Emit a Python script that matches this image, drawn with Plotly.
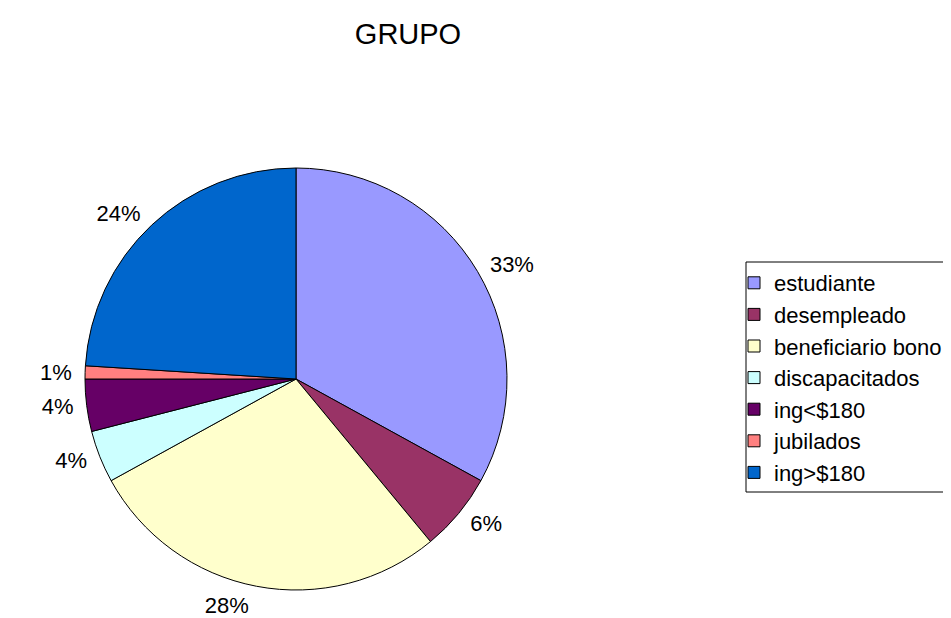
import plotly.graph_objects as go

categories = ["estudiante", "desempleado", "beneficiario bono", "discapacitados",
              "ing<$180", "jubilados", "ing>$180"]
shares = [33, 6, 28, 4, 4, 1, 24]
colors = ["#9999FF", "#993366", "#FFFFCC", "#CCFFFF", "#660066", "#FF8080", "#0066CC"]

W, H = 951, 618
cx, cy, r = 288, 371, 211
r_lab = r + 7  # labels sit a little further out, as in the reference

FONT = "Arial, Liberation Sans"


def dom(rad):
    return dict(x=[(cx - rad) / W, (cx + rad) / W], y=[1 - (cy + rad) / H, 1 - (cy - rad) / H])


fig = go.Figure()
fig.add_trace(go.Pie(
    labels=categories,
    values=shares,
    sort=False,
    direction="clockwise",
    rotation=0,
    marker=dict(colors=colors, line=dict(color="black", width=1)),
    textinfo="none",
    domain=dom(r),
    hoverinfo="label+percent",
))
# transparent companion pie carrying the percentage labels
fig.add_trace(go.Pie(
    labels=categories,
    values=shares,
    sort=False,
    direction="clockwise",
    rotation=0,
    marker=dict(colors=["rgba(0,0,0,0)"] * len(categories), line=dict(width=0)),
    textinfo="percent",
    textposition="outside",
    texttemplate="%{percent:.0%}",
    outsidetextfont=dict(family=FONT, size=22, color="black"),
    domain=dom(r_lab),
    hoverinfo="skip",
    showlegend=False,
))

fig.update_layout(
    width=W, height=H,
    margin=dict(l=0, r=0, t=0, b=0),
    paper_bgcolor="white",
    plot_bgcolor="white",
    font=dict(family=FONT, size=22, color="black"),
    title=dict(text="GRUPO", x=400 / W, xanchor="center", y=1 - 25.5 / H, yanchor="middle",
               font=dict(size=29, family=FONT, color="black")),
    legend=dict(
        x=726 / W, xanchor="left", y=1 - 254 / H, yanchor="top",
        borderwidth=0, bgcolor="rgba(0,0,0,0)",
        font=dict(size=22, family=FONT, color="black"),
        itemwidth=30, traceorder="normal",
    ),
    shapes=[dict(type="rect", xref="paper", yref="paper",
                 x0=738 / W, x1=1.02, y0=1 - 484 / H, y1=1 - 254 / H,
                 line=dict(color="black", width=1), fillcolor="rgba(0,0,0,0)")],
    showlegend=True,
)

fig.write_html("out.html")
